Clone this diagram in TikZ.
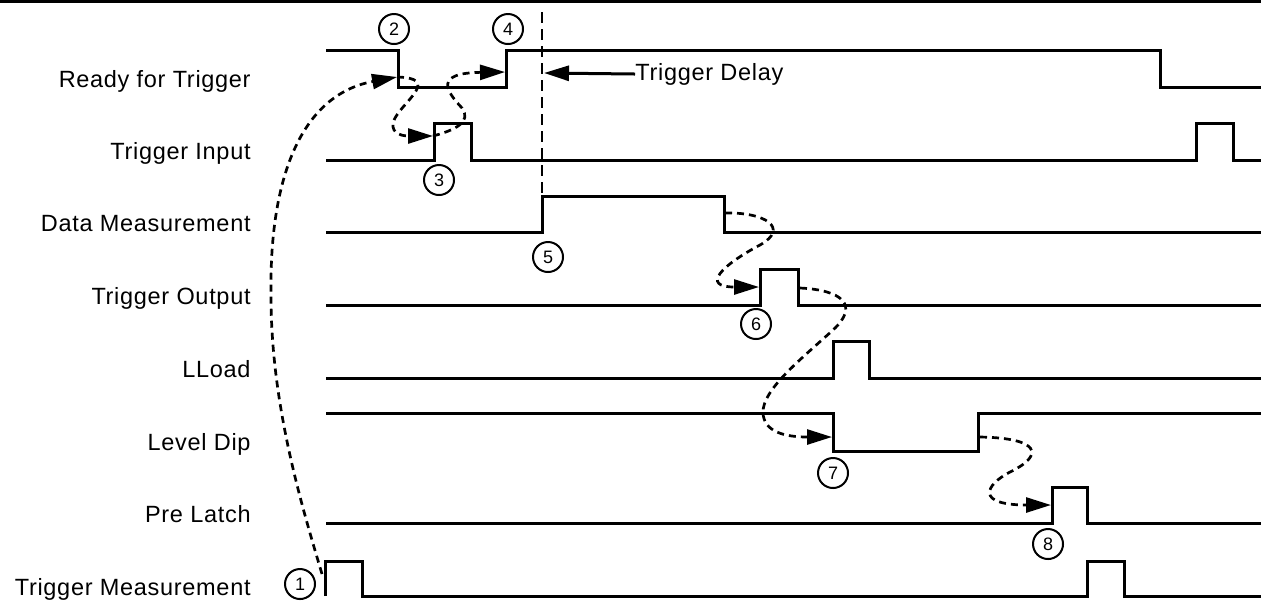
\documentclass[tikz,border=0pt]{standalone}
\usepackage{fontspec}
\setmainfont{Liberation Sans}
\usetikzlibrary{arrows.meta}

\begin{document}
\begin{tikzpicture}[x=0.5pt, y=-0.5pt, >={Triangle[length=12.5pt,width=7.5pt]},
    sig/.style={line width=1.5pt},
    cause/.style={line width=1.35pt, dash pattern=on 3.5pt off 2.5pt},
    lbl/.style={inner sep=0pt, font=\fontsize{11.75}{14}\selectfont\addfontfeature{LetterSpace=3}},
    num/.style={draw, circle, line width=1pt, minimum size=15pt, inner sep=0pt, font=\fontsize{9}{10}\selectfont}]
    \useasboundingbox (0,0) rectangle (1261,602);
    \draw[line width=1.5pt] (0,1.5) -- (1261,1.5);

    % signal names
    \foreach \txt/\yy [count=\i] in {Ready for Trigger/87, Trigger Input/159, Data Measurement/231,
        Trigger Output/304, LLoad/377, Level Dip/450, Pre Latch/522, Trigger Measurement/595}
        \node[lbl, anchor=base east] (lbl\i) at (251,\yy) {\txt};

    % waveforms
    \draw[sig] (326,50) -- (398,50) -- (398,87) -- (506,87) -- (506,50) -- (1160,50) -- (1160,87) -- (1261,87);
    \draw[sig] (326,160) -- (434,160) -- (434,123) -- (471,123) -- (471,160) -- (1196,160) -- (1196,123) -- (1233,123) -- (1233,160) -- (1261,160);
    \draw[sig] (326,232) -- (542,232) -- (542,196) -- (724,196) -- (724,232) -- (1261,232);
    \draw[sig] (326,305) -- (760,305) -- (760,269) -- (798,269) -- (798,305) -- (1261,305);
    \draw[sig] (326,378) -- (833,378) -- (833,341) -- (869,341) -- (869,378) -- (1261,378);
    \draw[sig] (326,413) -- (833,413) -- (833,451) -- (978,451) -- (978,413) -- (1261,413);
    \draw[sig] (326,523) -- (1052,523) -- (1052,487) -- (1087,487) -- (1087,523) -- (1261,523);
    \draw[sig] (325,596) -- (325,561) -- (362,561) -- (362,596) -- (1087,596) -- (1087,561) -- (1124,561) -- (1124,596) -- (1261,596);

    % numbered events
    \foreach \n/\px/\py in {1/300/584, 2/394/29, 3/439/180, 4/508/29, 5/548/257, 6/756/324, 7/833/473, 8/1048/544}
        \node[num] (n\n) at (\px,\py) {\n};

    % edges the arrows start and end on
    \coordinate (tmrise) at (322,574);
    \coordinate (rdyfall) at (397,77);
    \coordinate (tirise) at (433,136);
    \coordinate (rdyrise) at (505,72);
    \coordinate (dmtop) at (542,12);
    \coordinate (dmrise) at (542,196);
    \coordinate (dmfall) at (725,213);
    \coordinate (torise) at (759,287);
    \coordinate (tofall) at (800,288);
    \coordinate (ldfall) at (832,437);
    \coordinate (ldrise) at (980,437);
    \coordinate (plrise) at (1051,505);
    \coordinate (delaytip) at (544,73);

    % cause and effect
    \draw[cause,->] (tmrise) .. controls (300,500) and (270,400) .. (271,290)
        .. controls (270,180) and (300,95) .. (rdyfall);
    \draw[cause,->] (rdyfall) .. controls (440,78) and (405,100) .. (395,118)
        .. controls (388,132) and (400,136) .. (tirise);
    \draw[cause,->] (tirise) .. controls (455,130) and (472,122) .. (462,108)
        .. controls (445,90) and (435,73) .. (rdyrise);
    \draw[line width=1.35pt, dash pattern=on 5.5pt off 3pt] (dmtop) -- (dmrise);
    \draw[cause,->] (dmfall) .. controls (765,212) and (790,228) .. (760,245)
        .. controls (722,265) and (700,287) .. (torise);
    \draw[cause,->] (tofall) .. controls (842,290) and (860,305) .. (833,330)
        .. controls (800,360) and (762,390) .. (763,413)
        .. controls (764,432) and (785,437) .. (ldfall);
    \draw[cause,->] (ldrise) .. controls (1040,438) and (1045,455) .. (1010,472)
        .. controls (985,485) and (975,505) .. (plrise);

    % trigger delay
    \node[lbl, anchor=west] (delay) at (635,74) {Trigger Delay};
    \draw[sig,->] (delay.west) -- (delaytip);
\end{tikzpicture}
\end{document}
